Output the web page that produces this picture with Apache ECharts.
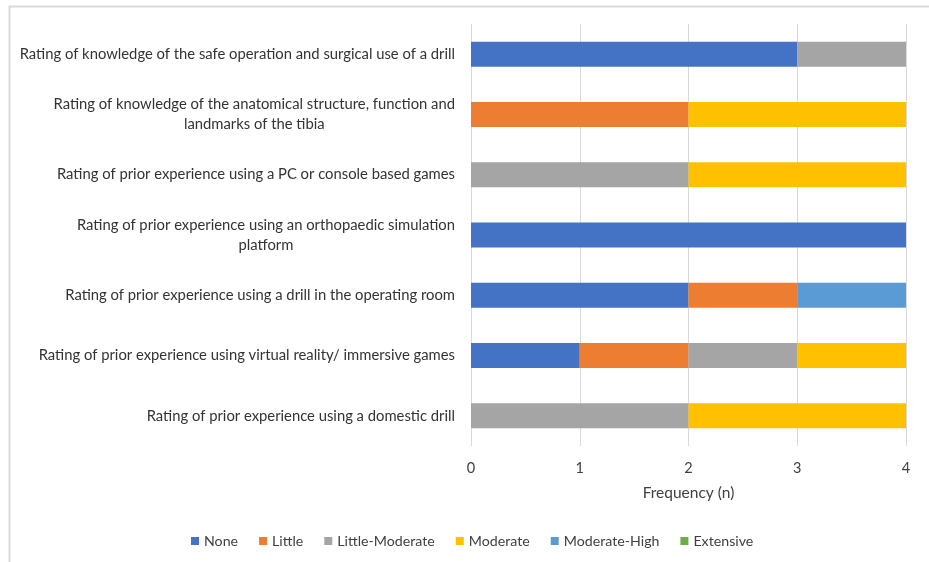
<!DOCTYPE html>
<html>
<head>
<meta charset="utf-8">
<script src="https://cdn.jsdelivr.net/npm/echarts@6/dist/echarts.min.js"></script>
<style>html,body{margin:0;padding:0;background:#fff;}#c{width:929px;height:562px;}</style>
</head>
<body>
<div id="c"></div>
<script>
const categories = [
  ["Rating of knowledge of the safe operation and surgical use of a drill"],
  ["Rating of knowledge of the anatomical structure, function and", "landmarks of the tibia"],
  ["Rating of prior experience using a PC or console based games"],
  ["Rating of prior experience using an orthopaedic simulation", "platform"],
  ["Rating of prior experience using a drill in the operating room"],
  ["Rating of prior experience using virtual reality/ immersive games"],
  ["Rating of prior experience using a domestic drill"]
];
const seriesNames = ["None", "Little", "Little-Moderate", "Moderate", "Moderate-High", "Extensive"];
const none            = [3, 0, 0, 4, 2, 1, 0];
const little          = [0, 2, 0, 0, 1, 1, 0];
const littleModerate  = [1, 0, 2, 0, 0, 1, 2];
const moderate        = [0, 2, 2, 0, 0, 1, 2];
const moderateHigh    = [0, 0, 0, 0, 1, 0, 0];
const extensive       = [0, 0, 0, 0, 0, 0, 0];
const xTicks = [0, 1, 2, 3, 4];
const colors = ["#4472C4", "#ED7D31", "#A5A5A5", "#FFC000", "#5B9BD5", "#70AD47"];

const allValues = [none, little, littleModerate, moderate, moderateHigh, extensive];
const font = "Lato";
const chart = echarts.init(document.getElementById('c'));
chart.setOption({
  animation: false,
  color: colors,
  graphic: [{
    type: 'rect', left: 7, top: 4, shape: {width: 1000, height: 700},
    style: {fill: 'none', stroke: '#d9d9d9', lineWidth: 2}, silent: true
  }],
  grid: {left: 471, right: 23, top: 24, bottom: 116},
  xAxis: {
    type: 'value', min: xTicks[0], max: xTicks[xTicks.length - 1], interval: 1,
    axisLine: {show: false}, axisTick: {show: false},
    splitLine: {lineStyle: {color: '#d9d9d9', width: 1}},
    axisLabel: {color: '#404040', fontFamily: font, fontSize: 14.5, margin: 15},
    name: 'Frequency (n)', nameLocation: 'middle', nameGap: 39,
    nameTextStyle: {color: '#404040', fontFamily: font, fontSize: 15.5}
  },
  yAxis: {
    type: 'category', inverse: true,
    data: categories.map(c => c.join('\n')),
    axisLine: {show: false}, axisTick: {show: false},
    axisLabel: {
      margin: 16, color: '#333333', fontFamily: font, fontSize: 14.8,
      formatter: v => v.split('\n').map(l => '{c|' + l + '}').join('\n'),
      rich: {c: {align: 'center', color: '#333333', fontFamily: font, fontSize: 14.8, lineHeight: 20}}
    }
  },
  legend: {
    bottom: 9, left: 186, itemWidth: 8, itemHeight: 8, itemGap: 21,
    icon: 'rect', textStyle: {color: '#404040', fontFamily: font, fontSize: 14.2},
    data: seriesNames
  },
  series: seriesNames.map((n, i) => ({
    name: n, type: 'bar', stack: 'total', barWidth: 25,
    data: allValues[i],
    itemStyle: {color: colors[i]}
  }))
});
</script>
</body>
</html>
